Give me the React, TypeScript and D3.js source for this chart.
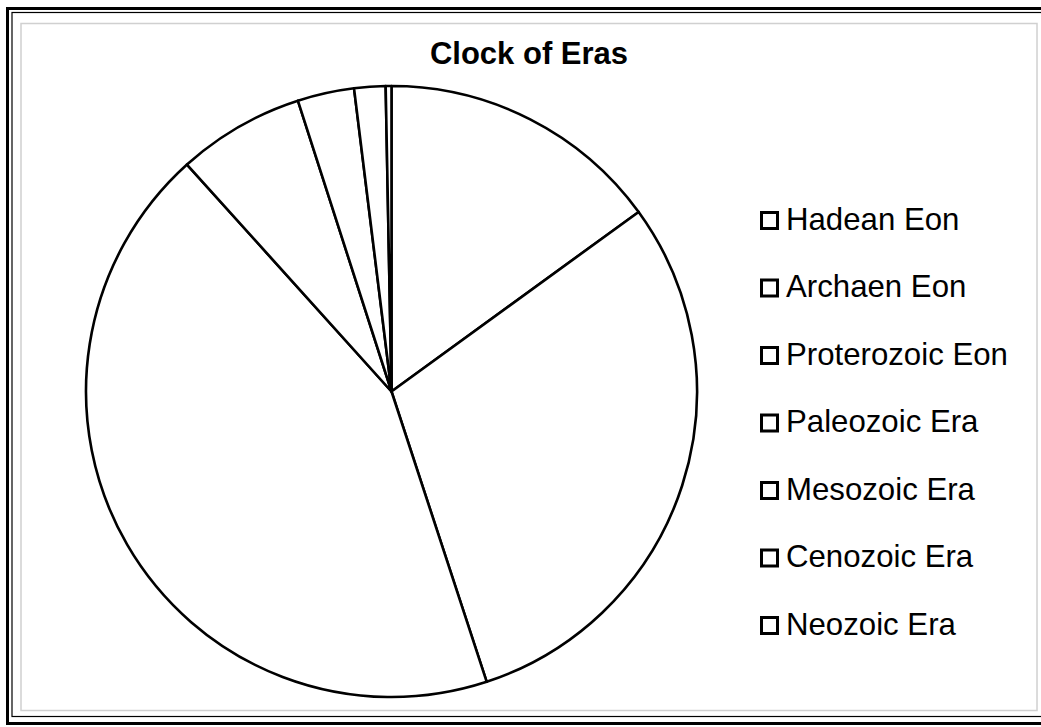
import React from "react";
import * as d3 from "d3";

// durations (millions of years)
const eras = ["Hadean Eon", "Archaen Eon", "Proterozoic Eon", "Paleozoic Era", "Mesozoic Era", "Cenozoic Era", "Neozoic Era"];
const durations = [690, 1378, 1995, 309, 138, 76, 14];

const W = 1041;
const H = 727;
const font = "'Liberation Sans', Arial, sans-serif";

export default function App() {
  const cx = 391.5;
  const cy = 391.5;
  const radius = 305.5;

  const pie = d3.pie<number>().sort(null).value((d) => d);
  const arcs = pie(durations);
  const arc = d3.arc<d3.PieArcDatum<number>>().innerRadius(0).outerRadius(radius);

  const legendY = d3
    .scalePoint<string>()
    .domain(eras)
    .range([229.5, 634.5]);

  return (
    <svg
      width={W}
      height={H}
      style={{ position: "absolute", left: 0, top: 0, background: "#fff" }}
      fontFamily={font}
    >
      {/* double outer frame */}
      <rect x={7.5} y={8.5} width={1045} height={715} fill="none" stroke="#000" strokeWidth={3} />
      <rect x={12} y={12.5} width={1035} height={704} fill="none" stroke="#000" strokeWidth={1.2} />
      {/* plot area */}
      <rect x={21} y={23.5} width={1016} height={687} fill="#fff" stroke="#d0d0d0" strokeWidth={1.5} />

      <text x={529} y={63.5} textAnchor="middle" fontWeight="bold" fontSize={31} fill="#000">
        Clock of Eras
      </text>

      <g transform={`translate(${cx},${cy})`}>
        {arcs.map((a, i) => (
          <path key={eras[i]} d={arc(a) || ""} fill="#fff" stroke="#000" strokeWidth={2.6} strokeLinejoin="round" />
        ))}
      </g>

      <g>
        {eras.map((name) => {
          const y = legendY(name) as number;
          return (
            <g key={name}>
              <rect x={761.5} y={y - 17} width={16} height={16} fill="#fff" stroke="#000" strokeWidth={3} />
              <text x={786} y={y} fontSize={31.2} fill="#000">
                {name}
              </text>
            </g>
          );
        })}
      </g>
    </svg>
  );
}
